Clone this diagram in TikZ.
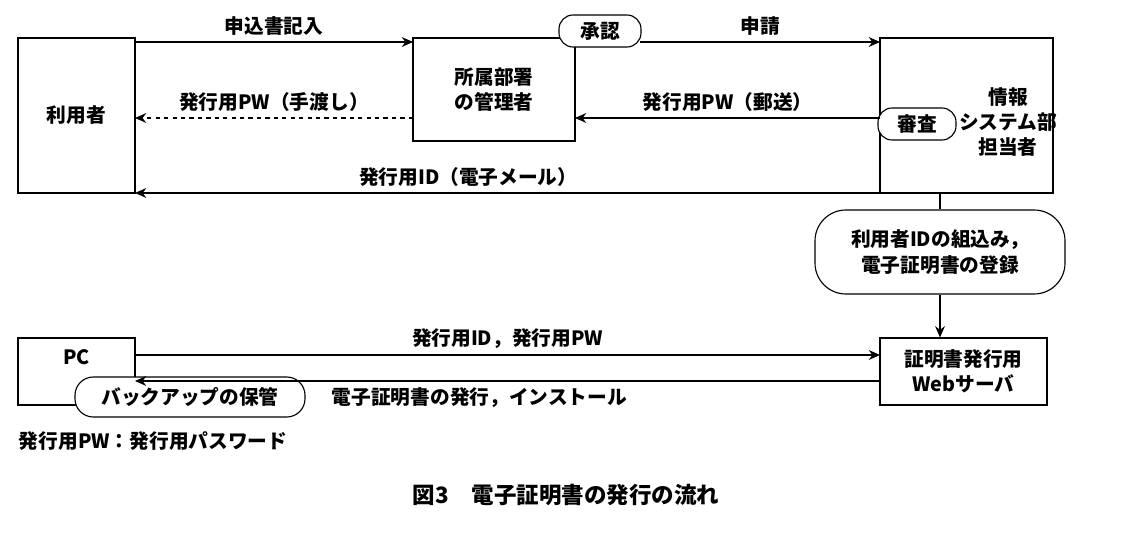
\documentclass[tikz,border=0pt]{standalone}
\usepackage{fontspec}
\setmainfont{Noto Sans CJK JP}
\usetikzlibrary{arrows.meta}
\begin{document}
\begin{tikzpicture}[x=0.025cm,y=-0.025cm,font=\fontsize{14}{18}\selectfont\bfseries,
  box/.style={draw, thick, fill=white, align=center, inner sep=0pt},
  pill/.style={draw, thick, fill=white, rounded corners=10pt, align=center, inner sep=2pt, minimum height=0.8cm},
  flow/.style={thick, -{Stealth[length=8pt,width=7pt]}}]
\useasboundingbox (0,0) rectangle (1132,551);
% boxes
\node[box, minimum width=117*0.025cm, minimum height=155*0.025cm] (user) at (76.5,115.5) {利用者};
\node[box, minimum width=162*0.025cm, minimum height=103*0.025cm] (mgr) at (494,89.5) {所属部署\\の管理者};
\node[box, minimum width=173*0.025cm, minimum height=155*0.025cm] (sys) at (966.5,115.5) {};
\node[align=center] (systxt) at (1008,122) {情報\\システム部\\担当者};
\node[box, minimum width=117*0.025cm, minimum height=67*0.025cm] (pc) at (76.5,371.5) {};
\node (pctxt) at (76.5,357) {PC};
\node[box, minimum width=167*0.025cm, minimum height=67*0.025cm] (web) at (963.5,371.5) {証明書発行用\\Webサーバ};
% pills
\node[pill, minimum width=82*0.025cm] (ok) at (600,31) {承認};
\node[pill, minimum width=78*0.025cm] (check) at (917,124) {審査};
\node[pill, rounded corners=22pt, minimum width=250*0.025cm, minimum height=84*0.025cm] (setup) at (940,252) {利用者IDの組込み，\\電子証明書の登録};
\node[pill, rounded corners=13pt, minimum width=230*0.025cm, minimum height=40*0.025cm] (backup) at (190,397) {バックアップの保管};
% connectors
\coordinate (a1) at (135,42); \coordinate (a2) at (413,42);
\draw[flow] (a1) -- node[above=1pt] {申込書記入} (a2);
\coordinate (b1) at (640,42); \coordinate (b2) at (880,42);
\draw[flow] (b1) -- node[above=1pt] {申請} (b2);
\coordinate (c1) at (413,118); \coordinate (c2) at (135,118);
\draw[flow, dashed] (c1) -- node[above=1pt] {発行用PW（手渡し）} (c2);
\coordinate (d1) at (880,118); \coordinate (d2) at (575,118);
\draw[flow] (d1) -- node[above=1pt] {発行用PW（郵送）} (d2);
\coordinate (e1) at (880,193); \coordinate (e2) at (135,193);
\draw[flow] (e1) -- node[above=1pt, xshift=-28pt] {発行用ID（電子メール）} (e2);
\draw[thick] (sys.south -| setup.north) -- (setup.north);
\draw[flow] (setup.south) -- (setup.south |- web.north);
\coordinate (f1) at (135,355); \coordinate (f2) at (880,355);
\draw[flow] (f1) -- node[above=1pt] {発行用ID，発行用PW} (f2);
\coordinate (g1) at (880,381); \coordinate (g2) at (135,381);
\draw[flow] (g1) -- node[below=1pt, xshift=-20pt] {電子証明書の発行，インストール} (g2);
% notes
\node[anchor=west] (note) at (14,441) {発行用PW：発行用パスワード};
\node[font=\fontsize{16}{18}\selectfont\bfseries] (cap) at (566,495) {図3\quad 電子証明書の発行の流れ};
\end{tikzpicture}
\end{document}
